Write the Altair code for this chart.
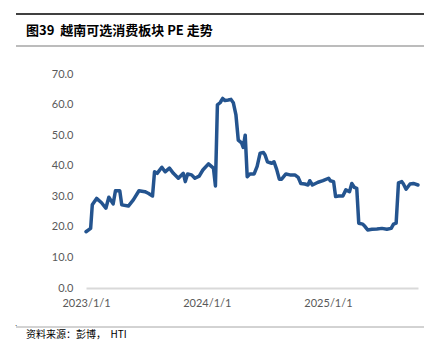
import altair as alt
import pandas as pd

dates = [
    "2023-01-01", "2023-01-15", "2023-01-20", "2023-02-02", "2023-02-17", "2023-03-02",
    "2023-03-11", "2023-03-24", "2023-03-31", "2023-04-13", "2023-04-19", "2023-05-09",
    "2023-05-24", "2023-06-10", "2023-06-28", "2023-07-08", "2023-07-21", "2023-07-27",
    "2023-08-04", "2023-08-18", "2023-08-28", "2023-09-10", "2023-09-22", "2023-10-07",
    "2023-10-22", "2023-10-28", "2023-11-04", "2023-11-16", "2023-11-26", "2023-12-09",
    "2023-12-20", "2024-01-06", "2024-01-21", "2024-01-27", "2024-02-02", "2024-02-10",
    "2024-02-18", "2024-02-25", "2024-03-06", "2024-03-14", "2024-03-21", "2024-03-29",
    "2024-04-05", "2024-04-15", "2024-04-20", "2024-04-26", "2024-05-02", "2024-05-10",
    "2024-05-23", "2024-06-01", "2024-06-10", "2024-06-20", "2024-06-25", "2024-07-02",
    "2024-07-15", "2024-07-22", "2024-07-30", "2024-08-07", "2024-08-14", "2024-08-27",
    "2024-09-08", "2024-09-23", "2024-10-03", "2024-10-11", "2024-10-23", "2024-11-02",
    "2024-11-07", "2024-11-15", "2024-12-02", "2024-12-17", "2025-01-03", "2025-01-08",
    "2025-01-18", "2025-01-24", "2025-02-02", "2025-02-15", "2025-02-24", "2025-03-07",
    "2025-03-14", "2025-03-22", "2025-03-29", "2025-04-04", "2025-04-16", "2025-04-23",
    "2025-05-01", "2025-05-14", "2025-05-29", "2025-06-13", "2025-06-28", "2025-07-11",
    "2025-07-18", "2025-07-26", "2025-08-02", "2025-08-12", "2025-08-17", "2025-08-25",
    "2025-09-06", "2025-09-16", "2025-09-30",
]
pe = [
    18.4, 19.5, 27.2, 29.3, 27.9, 26.1,
    29.7, 27.5, 31.8, 31.8, 27.2, 26.8,
    28.8, 31.8, 31.5, 31.0, 30.1, 38.0,
    37.5, 39.5, 38.0, 39.2, 37.5, 35.9,
    37.5, 34.8, 37.3, 37.0, 35.9, 36.6,
    38.6, 40.6, 39.2, 33.4, 59.9, 60.6,
    62.0, 61.3, 61.5, 61.7, 60.6, 56.6,
    48.4, 47.5, 46.0, 50.0, 36.4, 37.3,
    37.3, 39.8, 44.1, 44.3, 43.5, 41.3,
    40.8, 41.3, 38.8, 35.6, 35.6, 37.3,
    37.0, 37.0, 36.2, 34.2, 34.0, 33.7,
    35.1, 33.7, 34.6, 35.1, 35.9, 35.1,
    34.8, 29.9, 30.1, 30.1, 32.1, 31.5,
    34.2, 32.9, 32.6, 21.2, 20.9, 20.1,
    19.0, 19.2, 19.3, 19.5, 19.2, 19.5,
    20.9, 21.2, 34.4, 34.8, 34.0, 32.3,
    34.0, 34.2, 33.7,
]

title_text = "图39\u00a0\u00a0越南可选消费板块 PE 走势"
source_text = "资料来源：彭博，\u00a0\u00a0HTI"
y_ticks = [0, 10, 20, 30, 40, 50, 60, 70]

df = pd.DataFrame({"date": dates, "pe": pe})
one = pd.DataFrame({"k": [0]})

PL, PT = 86, 74
W, H = 332, 214

line = alt.Chart(df).mark_line(
    color="#24548F", strokeWidth=3.5, strokeJoin="round", strokeCap="round"
).encode(
    x=alt.X(
        "date:T",
        scale=alt.Scale(
            type="utc",
            domain=[alt.DateTime(year=2023, month=1, date=1, utc=True),
                    alt.DateTime(year=2025, month=9, date=30, utc=True)],
        ),
        axis=alt.Axis(
            title=None,
            values=[alt.DateTime(year=2023, month=1, date=1, utc=True),
                    alt.DateTime(year=2024, month=1, date=1, utc=True),
                    alt.DateTime(year=2025, month=1, date=1, utc=True)],
            labelExpr="utcFormat(datum.value, '%Y/%-m/%-d')",
            ticks=False,
            grid=False,
            domain=True,
            domainColor="#D9D9D9",
            domainWidth=2,
            labelColor="#595959",
            labelFontSize=11,
            labelFont="Lato",
            labelPadding=9,
            labelFlush=False,
        ),
    ),
    y=alt.Y(
        "pe:Q",
        scale=alt.Scale(domain=[0, 70], nice=False, zero=True),
        axis=alt.Axis(
            title=None,
            values=y_ticks,
            format=".1f",
            ticks=False,
            grid=False,
            domain=False,
            labelColor="#595959",
            labelFontSize=11,
            labelFont="Lato",
            labelPadding=13,
        ),
    ),
)

def hrule(y, color, width):
    return alt.Chart(one).mark_rule(color=color, strokeWidth=width).encode(
        x=alt.value(16 - PL), x2=alt.value(424 - PL), y=alt.value(y - PT)
    )

top_rule = hrule(14, "#000000", 1.5)
mid_rule = hrule(46, "#A6A6A6", 1.5)
bot_rule = hrule(327, "#A6A6A6", 1)

title = alt.Chart(one).mark_text(
    align="left", baseline="middle", font="Noto Sans CJK SC", fontSize=13,
    fontWeight="bold", color="#000000"
).encode(x=alt.value(26 - PL), y=alt.value(31 - PT), text=alt.value(title_text))

source = alt.Chart(one).mark_text(
    align="left", baseline="middle", font="Noto Sans CJK SC", fontSize=10,
    color="#000000"
).encode(x=alt.value(26 - PL), y=alt.value(335 - PT), text=alt.value(source_text))

dot = alt.Chart(one).mark_text(
    align="left", baseline="middle", fontSize=8, color="#000000"
).encode(x=alt.value(15 - PL), y=alt.value(324 - PT), text=alt.value("."))

chart = alt.layer(top_rule, mid_rule, bot_rule, title, source, dot, line).properties(
    width=W, height=H,
    autosize=alt.AutoSizeParams(type="none"),
    padding={"left": PL, "top": PT, "right": 436 - PL - W, "bottom": 354 - PT - H},
    background="white",
).configure_view(stroke=None)

chart.save("out.html", embed_options={"renderer": "svg", "actions": False})
